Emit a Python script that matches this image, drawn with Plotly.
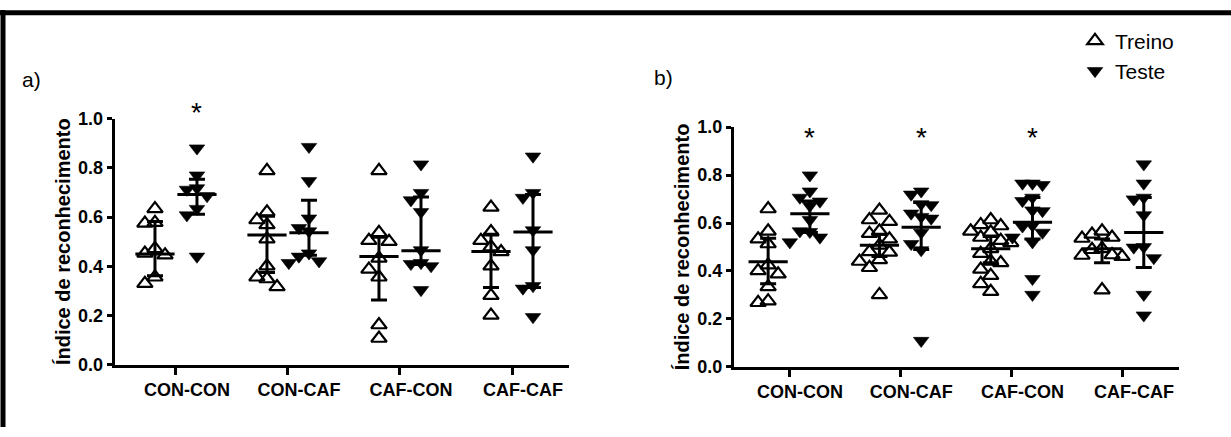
import plotly.graph_objects as go

# ---------------- data ----------------
groups = ["CON-CON", "CON-CAF", "CAF-CON", "CAF-CAF"]

# panel a)
a_treino = [
    [0.634, 0.578, 0.575, 0.472, 0.453, 0.446, 0.356, 0.330],
    [0.789, 0.621, 0.589, 0.569, 0.511, 0.401, 0.356, 0.349, 0.317],
    [0.789, 0.537, 0.505, 0.501, 0.433, 0.388, 0.356, 0.162, 0.107],
    [0.640, 0.540, 0.505, 0.479, 0.459, 0.401, 0.281, 0.201],
]
a_teste = [
    [0.880, 0.770, 0.718, 0.712, 0.686, 0.634, 0.608, 0.440],
    [0.886, 0.747, 0.595, 0.556, 0.543, 0.453, 0.440, 0.421, 0.414],
    [0.815, 0.699, 0.669, 0.621, 0.466, 0.414, 0.410, 0.401, 0.304],
    [0.847, 0.699, 0.679, 0.547, 0.466, 0.320, 0.310, 0.194],
]
a_treino_median = [0.450, 0.527, 0.440, 0.460]
a_treino_q1 = [0.362, 0.375, 0.263, 0.314]
a_treino_q3 = [0.582, 0.604, 0.518, 0.530]
a_teste_median = [0.692, 0.537, 0.463, 0.540]
a_teste_q1 = [0.612, 0.445, 0.407, 0.314]
a_teste_q3 = [0.754, 0.669, 0.682, 0.692]
a_signif = [True, False, False, False]

# panel b)
b_treino = [
    [0.659, 0.566, 0.533, 0.513, 0.425, 0.401, 0.387, 0.334, 0.275, 0.268],
    [0.653, 0.613, 0.606, 0.566, 0.556, 0.533, 0.507, 0.480, 0.478, 0.447, 0.440, 0.414, 0.301],
    [0.613, 0.593, 0.588, 0.566, 0.562, 0.540, 0.527, 0.518, 0.493, 0.473, 0.440, 0.434,
     0.407, 0.381, 0.347, 0.314],
    [0.566, 0.553, 0.540, 0.536, 0.493, 0.489, 0.467, 0.465, 0.460, 0.321],
]
b_teste = [
    [0.799, 0.732, 0.706, 0.690, 0.672, 0.613, 0.566, 0.563, 0.540, 0.520],
    [0.732, 0.719, 0.679, 0.675, 0.640, 0.626, 0.619, 0.560, 0.513, 0.487, 0.109],
    [0.765, 0.765, 0.759, 0.706, 0.692, 0.653, 0.650, 0.590, 0.586, 0.560, 0.540, 0.520,
     0.367, 0.301],
    [0.845, 0.765, 0.706, 0.699, 0.633, 0.500, 0.498, 0.454, 0.301, 0.215],
]
b_treino_median = [0.438, 0.507, 0.493, 0.493]
b_treino_q1 = [0.347, 0.460, 0.434, 0.434]
b_treino_q3 = [0.536, 0.553, 0.544, 0.533]
b_teste_median = [0.639, 0.582, 0.603, 0.560]
b_teste_q1 = [0.560, 0.490, 0.533, 0.414]
b_teste_q3 = [0.692, 0.686, 0.706, 0.706]
b_signif = [True, True, True, False]

y_ticks = [0.0, 0.2, 0.4, 0.6, 0.8, 1.0]

# ---------------- layout helpers ----------------
W, H = 1231, 437
FONT = "Arial, Liberation Sans, sans-serif"
OFF = 0.1875      # column offset from group centre (group units)
SLOT = 0.09       # horizontal spread step for overlapping points
THRESH = 0.05     # vertical overlap threshold (data units)


def swarm(values, centre):
    placed, xs = [], []
    for v in values:
        for s in [0, -1, 1, -2, 2, -3, 3]:
            if all(abs(v - pv) >= THRESH for ps, pv in placed if ps == s):
                break
        placed.append((s, v))
        xs.append(centre + s * SLOT)
    return xs


fig = go.Figure()


def add_panel(xa, ya, treino, teste, tr_med, tr_q1, tr_q3, te_med, te_q1, te_q3, legend):
    for name, data, sign, symbol, med, q1, q3 in [
        ("Treino", treino, -1, "triangle-up-open", tr_med, tr_q1, tr_q3),
        ("Teste", teste, 1, "triangle-down", te_med, te_q1, te_q3),
    ]:
        xs, ys = [], []
        for gi, vals in enumerate(data):
            xs += swarm(vals, gi + sign * OFF)
            ys += vals
        fig.add_trace(go.Scatter(
            x=xs, y=ys, mode="markers", name=name, xaxis=xa, yaxis=ya,
            showlegend=legend, cliponaxis=False,
            marker=dict(symbol=symbol, size=13.5, color="black",
                        line=dict(color="black", width=2.2 if "open" in symbol else 0.6)),
        ))
        cx = [gi + sign * OFF for gi in range(len(groups))]
        fig.add_trace(go.Scatter(
            x=cx, y=med, mode="markers", xaxis=xa, yaxis=ya, showlegend=False,
            cliponaxis=False, hoverinfo="skip",
            marker=dict(symbol="line-ew", size=28, color="black",
                        line=dict(color="black", width=3)),
            error_y=dict(type="data", symmetric=False,
                         array=[b - m for b, m in zip(q3, med)],
                         arrayminus=[m - a for a, m in zip(q1, med)],
                         color="black", thickness=3, width=8),
        ))


add_panel("x", "y", a_treino, a_teste, a_treino_median, a_treino_q1, a_treino_q3,
          a_teste_median, a_teste_q1, a_teste_q3, True)
add_panel("x2", "y2", b_treino, b_teste, b_treino_median, b_treino_q1, b_treino_q3,
          b_teste_median, b_teste_q1, b_teste_q3, False)


def xdom(p0, p1):
    return [p0 / W, p1 / W]


def ydom(top_px, bot_px):
    return [(H - bot_px) / H, (H - top_px) / H]


xaxis_common = dict(
    tickvals=list(range(len(groups))), ticktext=groups,
    showline=True, linecolor="black", linewidth=3, ticks="outside", ticklen=7,
    tickwidth=2.5, tickcolor="black", showgrid=False, zeroline=False,
    tickfont=dict(family=FONT, size=18, color="black", weight="bold"),
    ticklabelshift=11, fixedrange=True,
)
yaxis_common = dict(
    tickvals=y_ticks, tickformat=".1f", range=[0, 1.0],
    showline=True, linecolor="black", linewidth=3, ticks="outside", ticklen=5,
    tickwidth=2.5, tickcolor="black", showgrid=False, zeroline=False,
    tickfont=dict(family=FONT, size=18, color="black", weight="bold"),
    title=dict(text="Índice de reconhecimento", standoff=3,
               font=dict(family=FONT, size=20, color="black", weight="bold")),
    fixedrange=True,
)

fig.update_layout(
    width=W, height=H, autosize=False,
    margin=dict(l=0, r=0, t=0, b=0),
    paper_bgcolor="white", plot_bgcolor="white",
    xaxis=dict(xaxis_common, domain=xdom(114.7, 569.4), range=[-0.547, 3.5125], anchor="y"),
    yaxis=dict(yaxis_common, domain=ydom(114, 371.7), anchor="x"),
    xaxis2=dict(xaxis_common, domain=xdom(733.8, 1179), range=[-0.496, 3.504], anchor="y2"),
    yaxis2=dict(yaxis_common, domain=ydom(122.7, 374), anchor="x2"),
    legend=dict(x=1075 / W, y=1 - 11 / H, xanchor="left", yanchor="top",
                font=dict(family=FONT, size=21, color="black"),
                bgcolor="rgba(0,0,0,0)", itemwidth=30, tracegroupgap=0),
    showlegend=True,
)

annotations = [
    dict(text="a)", x=20 / W, y=1 - 73 / H, xref="paper", yref="paper",
         xanchor="left", yanchor="middle", showarrow=False,
         font=dict(family=FONT, size=21, color="black")),
    dict(text="b)", x=652 / W, y=1 - 71 / H, xref="paper", yref="paper",
         xanchor="left", yanchor="middle", showarrow=False,
         font=dict(family=FONT, size=21, color="black")),
]
for xa, ydomref, sig, yv in [("x", "y domain", a_signif, 1.025), ("x2", "y2 domain", b_signif, 0.958)]:
    for gi, s in enumerate(sig):
        if s:
            annotations.append(dict(text="*", x=gi + OFF, y=yv, xref=xa, yref=ydomref,
                                    showarrow=False, yanchor="middle",
                                    font=dict(family=FONT, size=28, color="black")))
fig.update_layout(annotations=annotations)

# outer frame (top and left edges)
fig.update_layout(shapes=[
    dict(type="line", xref="paper", yref="paper", x0=0, x1=1, y0=1 - 3 / H, y1=1 - 3 / H,
         line=dict(color="black", width=5)),
    dict(type="line", xref="paper", yref="paper", x0=3 / W, x1=3 / W, y0=0, y1=1,
         line=dict(color="black", width=5)),
])

fig.write_html("out.html")
